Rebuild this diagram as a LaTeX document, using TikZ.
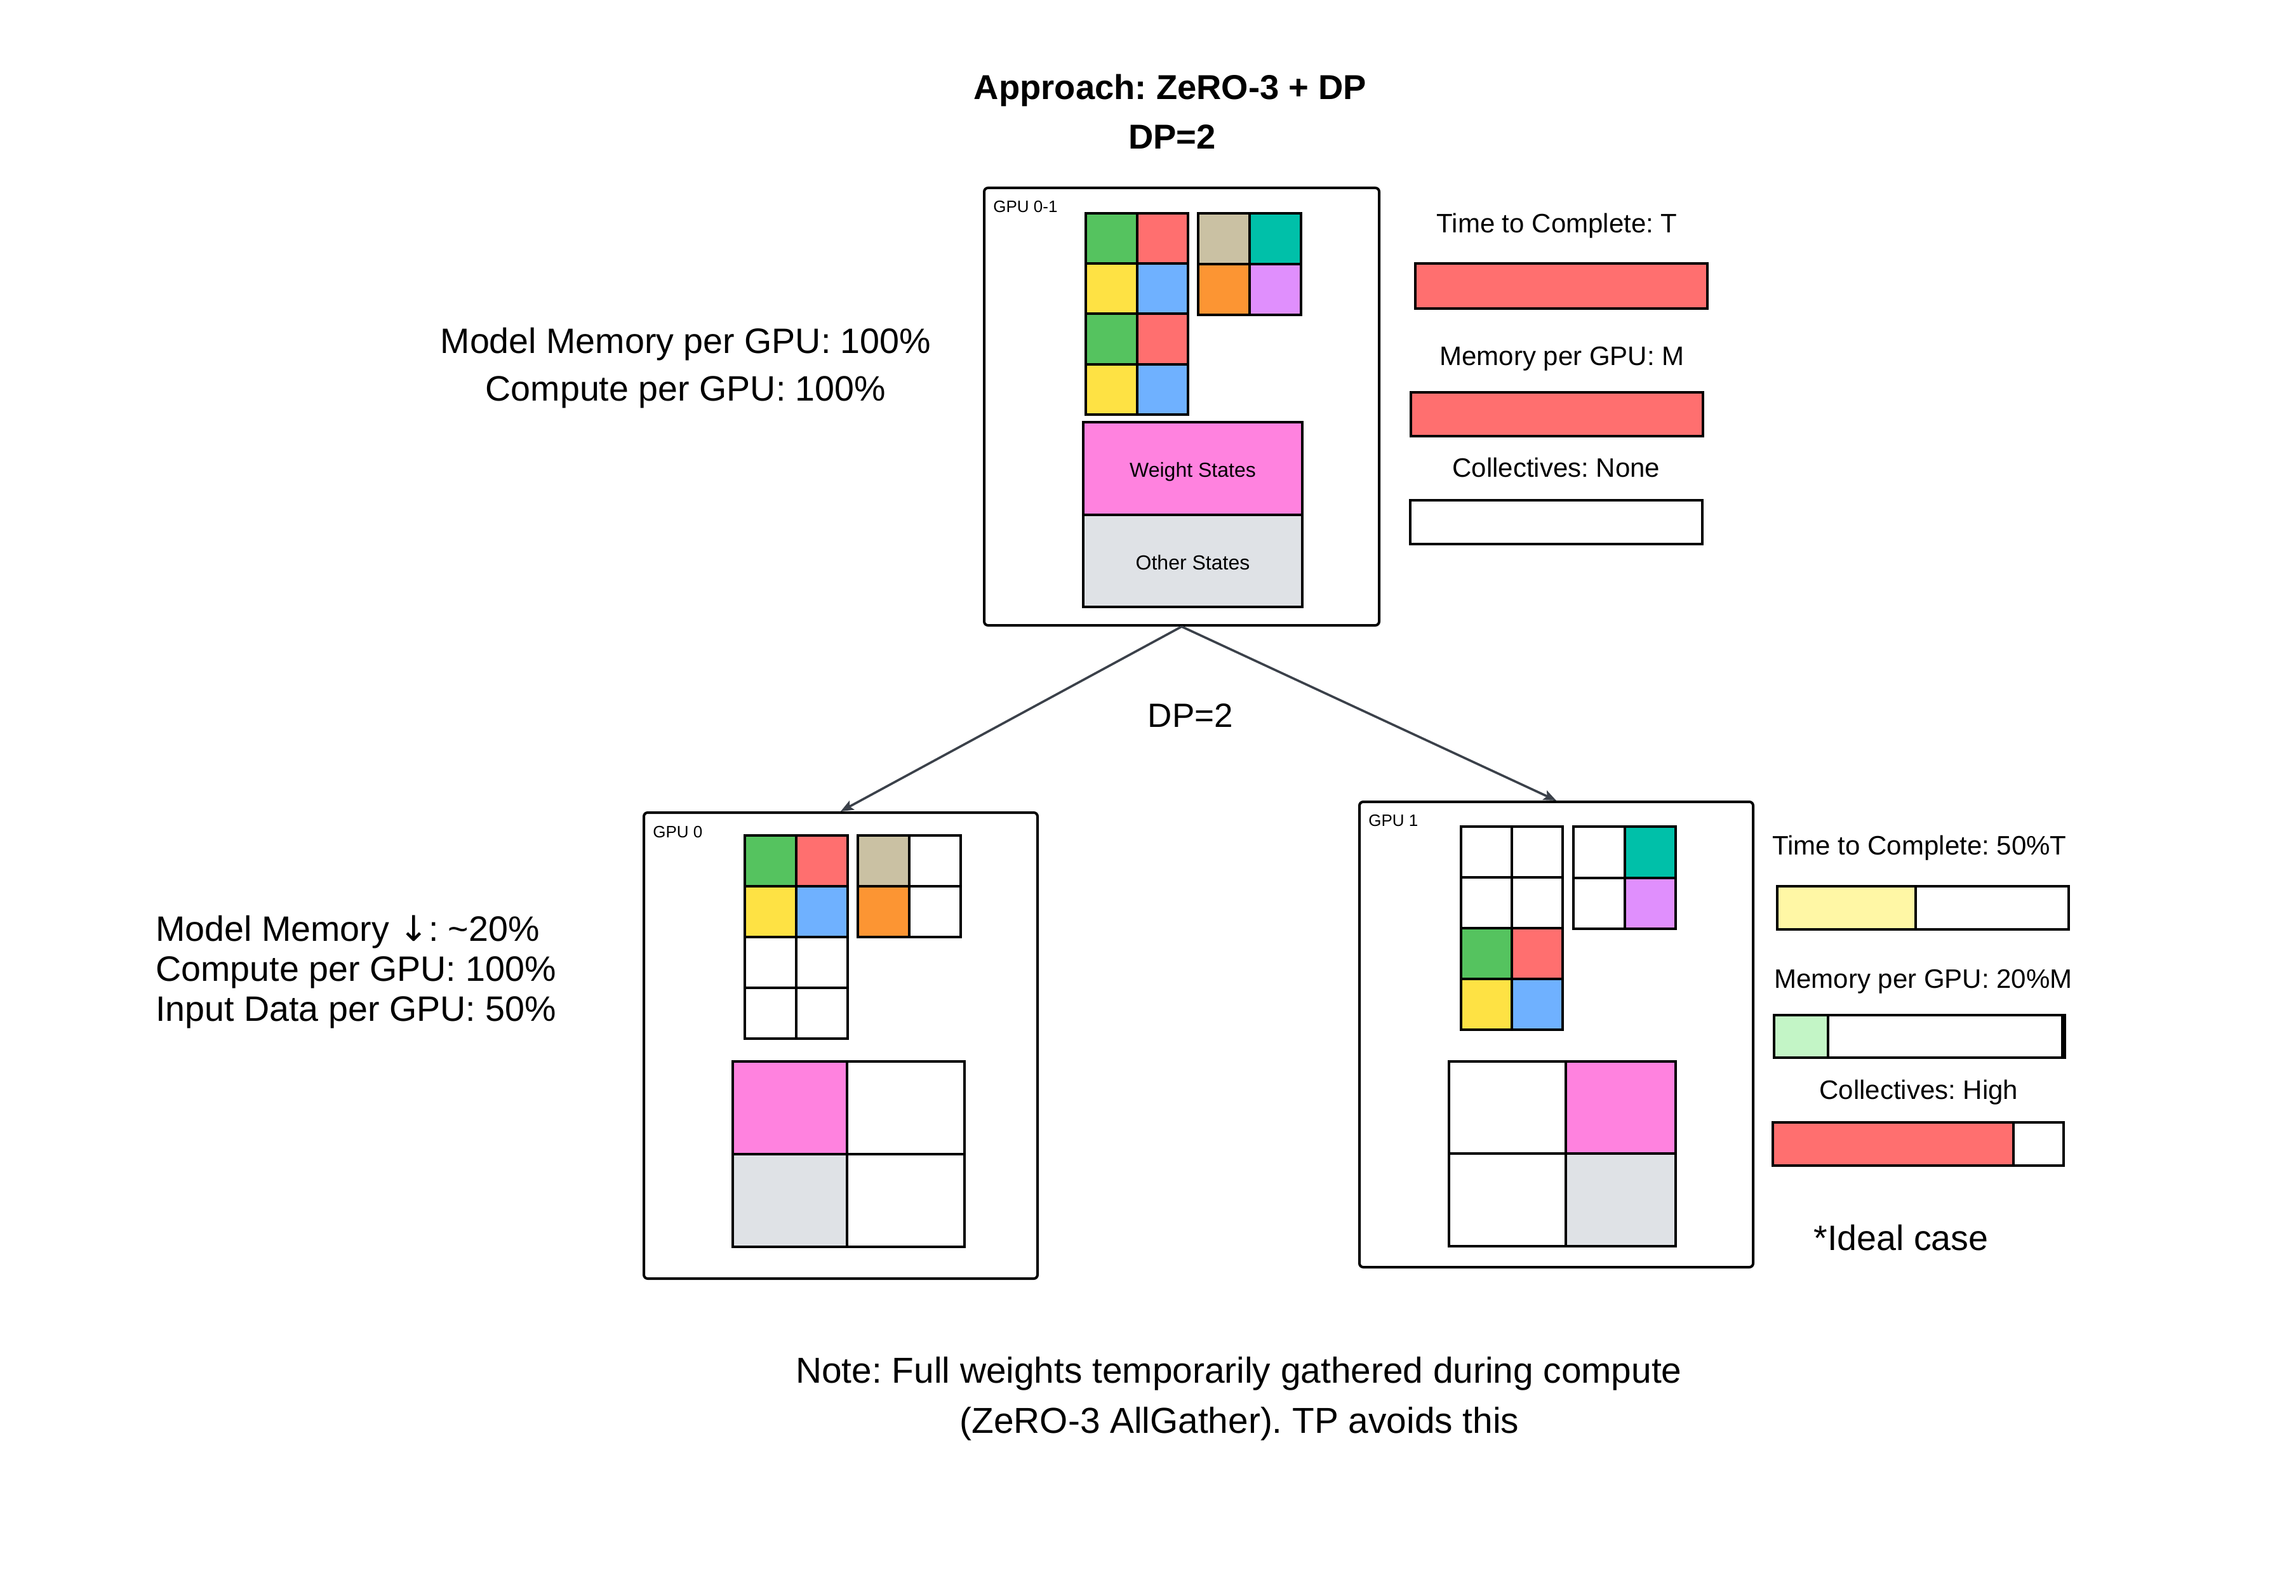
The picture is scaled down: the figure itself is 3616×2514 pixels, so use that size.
\documentclass[tikz,border=0pt]{standalone}
\usepackage{fontspec}
\setmainfont{Liberation Sans}
\newfontfamily\arrowfont{DejaVu Sans}
\usetikzlibrary{arrows.meta}
\definecolor{cgreen}{HTML}{55C35F}
\definecolor{cred}{HTML}{FF6F6F}
\definecolor{cyellow}{HTML}{FEE244}
\definecolor{cblue}{HTML}{6FB1FF}
\definecolor{ctan}{HTML}{CAC1A3}
\definecolor{cteal}{HTML}{00C0A9}
\definecolor{corange}{HTML}{FC9533}
\definecolor{clilac}{HTML}{E08FFD}
\definecolor{cpink}{HTML}{FF82DF}
\definecolor{cgray}{HTML}{DFE2E6}
\definecolor{clyellow}{HTML}{FFF7A5}
\definecolor{clgreen}{HTML}{C3F5C6}
\definecolor{cline}{HTML}{3B414A}
\newcommand\mycell[5]{\draw[cellbox,fill=#5] (#1,#2) rectangle ++(#3,#4);}
\frenchspacing
\begin{document}
\begin{tikzpicture}[x=0.5pt,y=-0.5pt,
  cellbox/.style={draw=black,line width=2pt},
  gpubox/.style={draw=black,line width=2pt,rounded corners=3pt,inner sep=0pt},
  conn/.style={draw=cline,line width=1.8pt,-{Stealth[length=10pt,width=8pt,inset=2pt]}},
  bodytxt/.style={font=\fontsize{27.8}{39}\selectfont,inner sep=0pt},
  titletxt/.style={font=\fontsize{27.2}{38}\selectfont\bfseries,inner sep=0pt},
  bartxt/.style={font=\fontsize{21}{26}\selectfont,inner sep=0pt},
  gputxt/.style={font=\fontsize{13}{16}\selectfont,inner sep=0pt},
  statetxt/.style={font=\fontsize{16}{20}\selectfont,inner sep=0pt}]
\fill[white] (0,0) rectangle (3616,2514);
\useasboundingbox (0,0) rectangle (3616,2514);

% titles
\node[titletxt,anchor=base] (title1) at (1843,157) {Approach: ZeRO-3 + DP};
\node[titletxt,anchor=base] (title2) at (1846,235) {DP=2};

% top-left text
\node[bodytxt,anchor=base] (mm1) at (1080,557) {Model Memory per GPU: 100\%};
\node[bodytxt,anchor=base] (cp1) at (1080,632) {Compute per GPU: 100\%};

% GPU boxes
\node[gpubox,minimum width=311pt,minimum height=344.5pt] (g01) at (1861,640.5) {};
\node[gpubox,minimum width=310pt,minimum height=367pt] (g0) at (1324,1647) {};
\node[gpubox,minimum width=310pt,minimum height=366.5pt] (g1) at (2451,1629.5) {};

\node[gputxt,anchor=base west] (g01lab) at (1564,335) {GPU 0-1};
\node[gputxt,anchor=base west] (g0lab) at (1028,1319) {GPU 0};
\node[gputxt,anchor=base west] (g1lab) at (2155,1301) {GPU 1};

% GPU 0-1 contents
\mycell{1710}{336}{80.5}{79.25}{cgreen}
\mycell{1790.5}{336}{80.5}{79.25}{cred}
\mycell{1710}{415.25}{80.5}{79.25}{cyellow}
\mycell{1790.5}{415.25}{80.5}{79.25}{cblue}
\mycell{1710}{494.5}{80.5}{79.25}{cgreen}
\mycell{1790.5}{494.5}{80.5}{79.25}{cred}
\mycell{1710}{573.75}{80.5}{79.25}{cyellow}
\mycell{1790.5}{573.75}{80.5}{79.25}{cblue}
\mycell{1887}{336}{81}{80}{ctan}
\mycell{1968}{336}{81}{80}{cteal}
\mycell{1887}{416}{81}{80}{corange}
\mycell{1968}{416}{81}{80}{clilac}
\mycell{1706}{665}{345}{146}{cpink}
\mycell{1706}{811}{345}{145}{cgray}
\node[statetxt,anchor=base] (ws) at (1878.5,752) {Weight States};
\node[statetxt,anchor=base] (os) at (1878.5,897) {Other States};

% GPU 0 contents
\mycell{1173}{1316}{81}{80}{cgreen}
\mycell{1254}{1316}{81}{80}{cred}
\mycell{1173}{1396}{81}{80}{cyellow}
\mycell{1254}{1396}{81}{80}{cblue}
\mycell{1173}{1476}{81}{80}{white}
\mycell{1254}{1476}{81}{80}{white}
\mycell{1173}{1556}{81}{80}{white}
\mycell{1254}{1556}{81}{80}{white}
\mycell{1351}{1316}{81}{80}{ctan}
\mycell{1432}{1316}{81}{80}{white}
\mycell{1351}{1396}{81}{80}{corange}
\mycell{1432}{1396}{81}{80}{white}
\mycell{1154}{1672}{180}{146}{cpink}
\mycell{1334}{1672}{185}{146}{white}
\mycell{1154}{1818}{180}{146}{cgray}
\mycell{1334}{1818}{185}{146}{white}

% GPU 1 contents
\mycell{2301}{1302}{80}{80}{white}
\mycell{2381}{1302}{80}{80}{white}
\mycell{2301}{1382}{80}{80}{white}
\mycell{2381}{1382}{80}{80}{white}
\mycell{2301}{1462}{80}{80}{cgreen}
\mycell{2381}{1462}{80}{80}{cred}
\mycell{2301}{1542}{80}{80}{cyellow}
\mycell{2381}{1542}{80}{80}{cblue}
\mycell{2478}{1302}{80.5}{81}{white}
\mycell{2558.5}{1302}{80.5}{81}{cteal}
\mycell{2478}{1383}{80.5}{80}{white}
\mycell{2558.5}{1383}{80.5}{80}{clilac}
\mycell{2282}{1672}{184}{145}{white}
\mycell{2466}{1672}{173}{145}{cpink}
\mycell{2282}{1817}{184}{146}{white}
\mycell{2466}{1817}{173}{146}{cgray}

% connectors
\draw[conn] (g01.south) -- (g0.north);
\draw[conn] (g01.south) -- (g1.north);
\node[font=\fontsize{26.5}{32}\selectfont,inner sep=0pt,anchor=base] (dpmid) at (1875,1145) {DP=2};

% top-right bars
\node[bartxt,anchor=base] (t2c1) at (2452,367) {Time to Complete: T};
\draw[cellbox,fill=cred] (2229,415) rectangle (2689,486);
\node[bartxt,anchor=base] (mem1) at (2460,576) {Memory per GPU: M};
\draw[cellbox,fill=cred] (2222,618) rectangle (2682,687);
\node[bartxt,anchor=base] (col1) at (2451,752) {Collectives: None};
\draw[cellbox,fill=white] (2221,788) rectangle (2681,857);

% bottom-right bars
\node[bartxt,anchor=base] (t2c2) at (3023,1346) {Time to Complete: 50\%T};
\draw[cellbox,fill=clyellow] (2799,1396) rectangle (3017,1464);
\draw[cellbox,fill=white] (3017,1396) rectangle (3258,1464);
\node[bartxt,anchor=base] (mem2) at (3029,1556) {Memory per GPU: 20\%M};
\draw[cellbox,fill=clgreen] (2794,1599) rectangle (2879,1666);
\draw[cellbox,fill=white] (2879,1599) rectangle (3252,1666);
\draw[line width=2pt] (3248,1599) -- (3248,1666);
\node[bartxt,anchor=base] (col2) at (3022,1731) {Collectives: High};
\draw[cellbox,fill=cred] (2792,1768) rectangle (3171,1836);
\draw[cellbox,fill=white] (3171,1768) rectangle (3250,1836);
\node[bodytxt,anchor=base] (ideal) at (2994,1969) {*Ideal case};

% left-bottom text
\node[bodytxt,anchor=base west] (mm2) at (245,1482) {Model Memory {\arrowfont ↓}: \textasciitilde20\%};
\node[bodytxt,anchor=base west] (cp2) at (245,1545) {Compute per GPU: 100\%};
\node[bodytxt,anchor=base west] (id2) at (245,1608) {Input Data per GPU: 50\%};

% note
\node[font=\fontsize{28.4}{39}\selectfont,inner sep=0pt,anchor=base] (note1) at (1951,2178) {Note: Full weights temporarily gathered during compute};
\node[font=\fontsize{28.4}{39}\selectfont,inner sep=0pt,anchor=base] (note2) at (1952,2257) {(ZeRO-3 AllGather). TP avoids this};
\end{tikzpicture}
\end{document}
